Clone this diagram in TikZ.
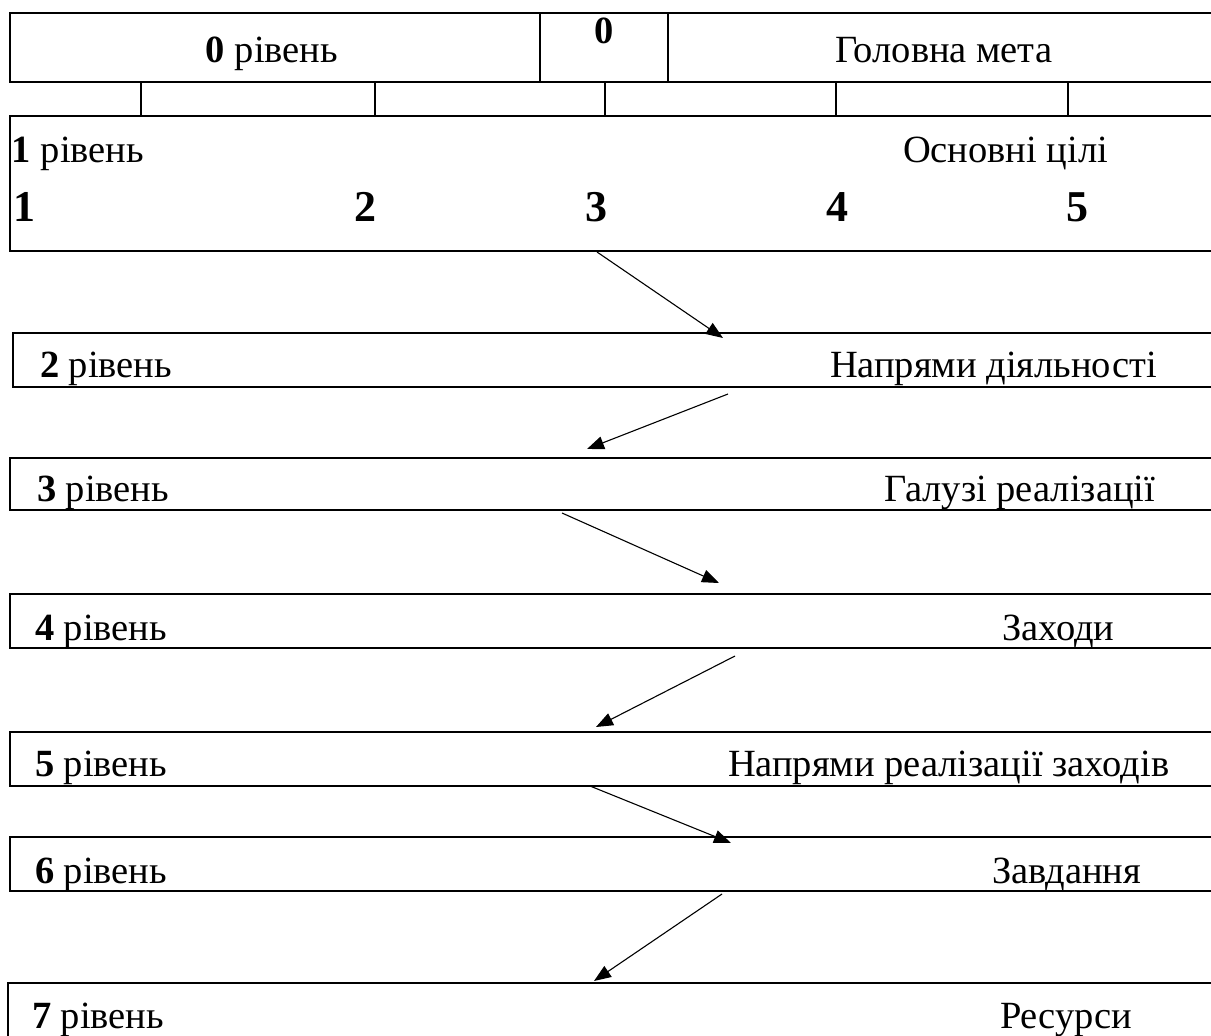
\documentclass[tikz,border=0pt]{standalone}
\usepackage{fontspec}
\setmainfont{Liberation Serif}
\usetikzlibrary{arrows.meta}
\tikzset{
  boxline/.style={line width=2.4pt, line join=miter},
  lbl/.style={inner sep=0pt, outer sep=0pt, font=\fontsize{38.5}{41}\selectfont},
  bignum/.style={inner sep=0pt, outer sep=0pt, font=\fontsize{44}{47}\selectfont\bfseries},
  arr/.style={line width=1.1pt, -{Triangle[length=17pt,width=13pt]}}
}
\begin{document}
\begin{tikzpicture}[x=1pt,y=-1pt]
\useasboundingbox (0,0) rectangle (1211,1036);
\clip (0,0) rectangle (1211,1036);
% level 0
\draw[boxline, line width=2.8pt] (10,13) rectangle (1240,82);
\draw[boxline, line width=2.8pt] (540,13) -- (540,82) (668,13) -- (668,82);
% connecting cells
\foreach \x in {141,375,605,836,1068} \draw[boxline] (\x,82) -- (\x,116);
% level 1
\draw[boxline, line width=2.8pt] (10,116) rectangle (1240,251);
% levels 2..7
\draw[boxline] (13,333) rectangle (1240,387);
\draw[boxline] (10,458) rectangle (1240,510);
\draw[boxline] (10,594) rectangle (1240,648);
\draw[boxline] (10,732) rectangle (1240,786);
\draw[boxline] (10,837) rectangle (1240,891);
\draw[boxline] (8,983) rectangle (1240,1060);
% texts level 0
\node[lbl, anchor=base] (t0) at (272,62) {\textbf{0} рівень};
\node[lbl, anchor=base] (t0n) at (604,43) {\textbf{0}};
\node[lbl, anchor=base west] (t0g) at (835,62) {Головна мета};
% level 1
\node[lbl, anchor=base west] (t1) at (12,162) {\textbf{1} рівень};
\node[lbl, anchor=base west] (t1g) at (903,162) {Основні цілі};
\node[bignum, anchor=base west] (n1) at (13,221) {1};
\node[bignum, anchor=base] (n2) at (365,221) {2};
\node[bignum, anchor=base] (n3) at (596,221) {3};
\node[bignum, anchor=base] (n4) at (837,221) {4};
\node[bignum, anchor=base] (n5) at (1077,221) {5};
% level texts
\node[lbl, anchor=base west] (t2) at (40,377) {\textbf{2} рівень};
\node[lbl, anchor=base west] (t2g) at (830,377) {Напрями діяльності};
\node[lbl, anchor=base west] (t3) at (37,501) {\textbf{3} рівень};
\node[lbl, anchor=base west] (t3g) at (884,501) {Галузі реалізації};
\node[lbl, anchor=base west] (t4) at (35,640) {\textbf{4} рівень};
\node[lbl, anchor=base west] (t4g) at (1002,640) {Заходи};
\node[lbl, anchor=base west] (t5) at (35,776) {\textbf{5} рівень};
\node[lbl, anchor=base west] (t5g) at (728,776) {Напрями реалізації заходів};
\node[lbl, anchor=base west] (t6) at (35,883) {\textbf{6} рівень};
\node[lbl, anchor=base west] (t6g) at (992,883) {Завдання};
\node[lbl, anchor=base west] (t7) at (32,1028) {\textbf{7} рівень};
\node[lbl, anchor=base west] (t7g) at (1000,1028) {Ресурси};
% arrow end points
\coordinate (a1s) at (597,252); \coordinate (a1e) at (723,338);
\coordinate (a2s) at (728,394); \coordinate (a2e) at (587,449);
\coordinate (a3s) at (562,513); \coordinate (a3e) at (719,583);
\coordinate (a4s) at (735,656); \coordinate (a4e) at (596,727);
\coordinate (a5s) at (590,786); \coordinate (a5e) at (731,843);
\coordinate (a6s) at (722,894); \coordinate (a6e) at (594,981);
\draw[arr] (a1s) -- (a1e);
\draw[arr] (a2s) -- (a2e);
\draw[arr] (a3s) -- (a3e);
\draw[arr] (a4s) -- (a4e);
\draw[arr] (a5s) -- (a5e);
\draw[arr] (a6s) -- (a6e);
\end{tikzpicture}
\end{document}
